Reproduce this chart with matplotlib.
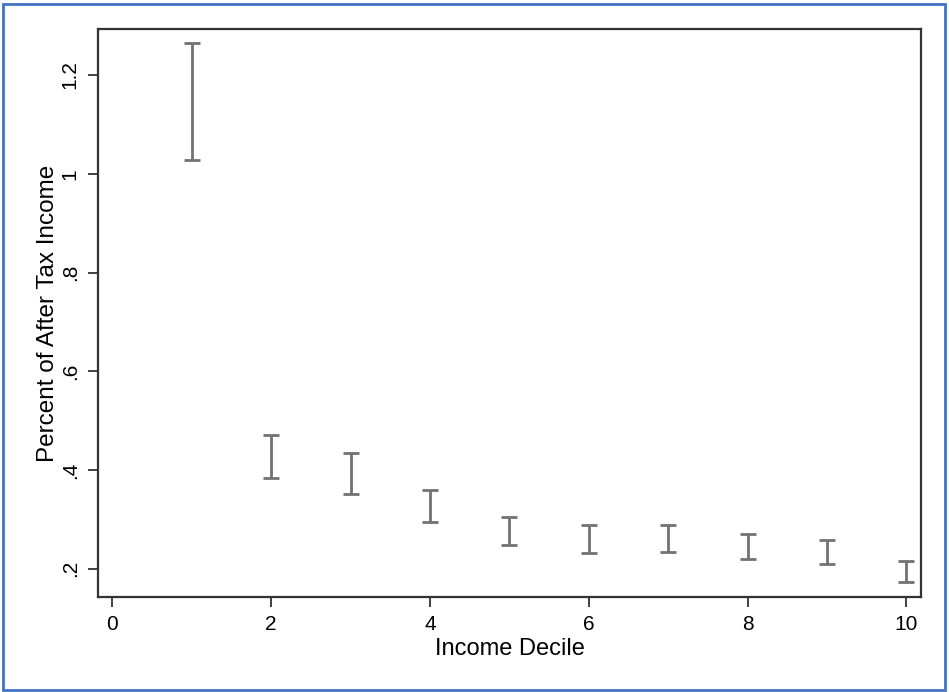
import matplotlib
matplotlib.use('Agg')
from matplotlib import pyplot as plt
from matplotlib.patches import Rectangle

plt.rcParams['font.family'] = ['Liberation Sans', 'DejaVu Sans']

# income deciles and the upper / lower ends of each range
deciles = [1, 2, 3, 4, 5, 6, 7, 8, 9, 10]
upper = [1.264, 0.471, 0.434, 0.360, 0.304, 0.288, 0.289, 0.271, 0.258, 0.215]
lower = [1.027, 0.384, 0.352, 0.294, 0.248, 0.232, 0.234, 0.220, 0.209, 0.173]

y_ticks = [0.2, 0.4, 0.6, 0.8, 1.0, 1.2]
y_tick_labels = ['.2', '.4', '.6', '.8', '1', '1.2']
x_ticks = [0, 2, 4, 6, 8, 10]

fig = plt.figure(figsize=(9.49, 6.92), dpi=100)
ax = fig.add_axes([0.103, 0.138, 0.868, 0.8197])

mid = [(u + l) / 2 for u, l in zip(upper, lower)]
half = [(u - l) / 2 for u, l in zip(upper, lower)]
ax.errorbar(deciles, mid, yerr=half, fmt='none', ecolor='#727272',
            elinewidth=2, capsize=6, capthick=2)

ax.set_xlim(-0.184, 10.19)
ax.set_ylim(0.144, 1.2925)
ax.set_xticks(x_ticks)
ax.set_yticks(y_ticks)
ax.set_yticklabels(y_tick_labels, rotation=90, va='center')

for side in ['left', 'bottom', 'right', 'top']:
    ax.spines[side].set_color('#333333')
    ax.spines[side].set_linewidth(1.6)

ax.tick_params(axis='both', direction='out', length=7, width=1.3,
               color='#333333', labelsize=15, pad=6)
ax.set_xlabel('Income Decile', fontsize=17, labelpad=3)
ax.set_ylabel('Percent of After Tax Income', fontsize=17.5, labelpad=1)

# blue frame round the whole picture
fig.patches.append(Rectangle((3 / 949, 2 / 692), 942 / 949, 686 / 692,
                             transform=fig.transFigure, fill=False,
                             edgecolor='#4472C4', linewidth=2))

plt.savefig('out.png', dpi=100)
